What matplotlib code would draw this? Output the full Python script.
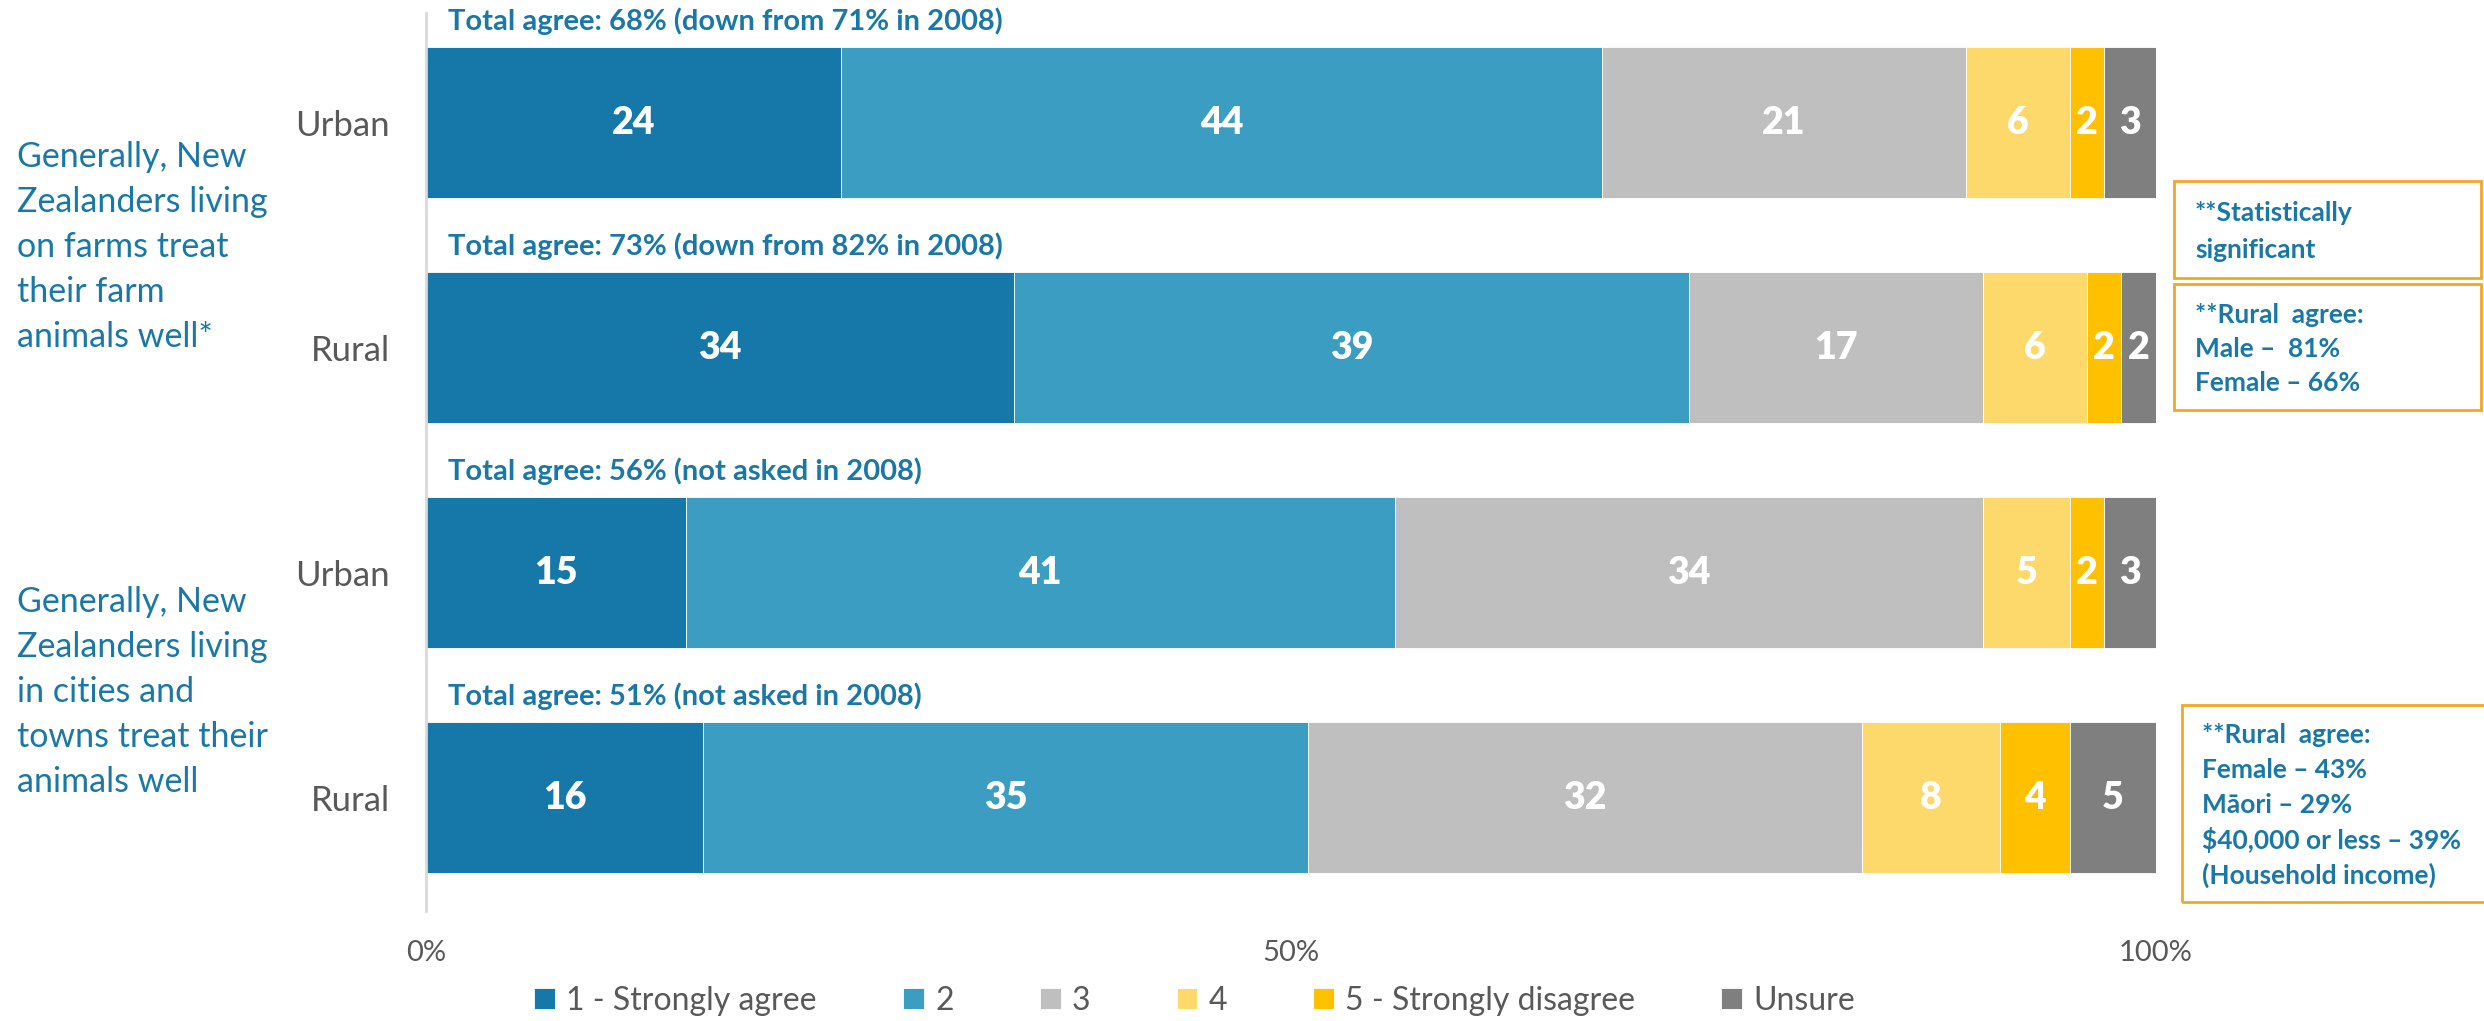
import matplotlib
matplotlib.use("Agg")
import matplotlib.pyplot as plt
from matplotlib.patches import Rectangle
import numpy as np

plt.rcParams['font.family'] = ['Lato', 'DejaVu Sans']

# --- data ---
rows = ['Urban', 'Rural', 'Urban', 'Rural']
categories = ['1 - Strongly agree', '2', '3', '4', '5 - Strongly disagree', 'Unsure']
values = np.array([
    [24, 44, 21, 6, 2, 3],
    [34, 39, 17, 6, 2, 2],
    [15, 41, 34, 5, 2, 3],
    [16, 35, 32, 8, 4, 5],
])
totals = [
    'Total agree: 68% (down from 71% in 2008)',
    'Total agree: 73% (down from 82% in 2008)',
    'Total agree: 56% (not asked in 2008)',
    'Total agree: 51% (not asked in 2008)',
]
questions = [
    ['Generally, New', 'Zealanders living', 'on farms treat', 'their farm', 'animals well*'],
    ['Generally, New', 'Zealanders living', 'in cities and', 'towns treat their', 'animals well'],
]
notes = [
    ['**Statistically', 'significant'],
    ['**Rural  agree:', 'Male \u2013  81%', 'Female \u2013 66%'],
    ['**Rural  agree:', 'Female \u2013 43%', 'M\u0101ori \u2013 29%',
     '$40,000 or less \u2013 39%', '(Household income)'],
]

colors = ['#1578a8', '#3a9dc1', '#bfbfbf', '#fdd96b', '#ffc000', '#7f7f7f']
blue = '#1a78a8'
grey = '#595959'

W, H = 2484, 1021
fig = plt.figure(figsize=(W / 100, H / 100), dpi=100)
ax = fig.add_axes([426 / W, 1 - 911 / H, (2156 - 426) / W, (911 - 13) / H])

y = np.arange(len(rows))
left = np.zeros(len(rows))
handles = []
for j, cat in enumerate(categories):
    bars = ax.barh(y, values[:, j], left=left, height=0.67, color=colors[j],
                   edgecolor='white', linewidth=0.6, label=cat)
    handles.append(bars)
    for i in range(len(rows)):
        ax.text(left[i] + values[i, j] / 2, y[i], str(values[i, j]),
                ha='center', va='center', color='white', fontsize=27, fontweight='heavy')
    left += values[:, j]

# total agree labels above each bar
for i, t in enumerate(totals):
    ax.text(1.3, y[i] - 0.41, t, ha='left', va='baseline', color=blue,
            fontsize=21, fontweight='bold')

ax.set_xlim(0, 100)
ax.set_ylim(3.504, -0.487)
ax.set_yticks(y, rows)
ax.set_xticks([0, 50, 100], ['0%', '50%', '100%'])
ax.tick_params(axis='y', length=0, pad=26, labelsize=25, labelcolor=grey)
ax.tick_params(axis='x', length=0, pad=21, labelsize=21, labelcolor=grey)
for s in ['top', 'right', 'bottom']:
    ax.spines[s].set_visible(False)
ax.spines['left'].set_color('#d9d9d9')
ax.spines['left'].set_linewidth(2)

# question text on the left
for lines, y0 in zip(questions, [157, 602]):
    for k, line in enumerate(lines):
        fig.text(17 / W, 1 - (y0 + 45 * k) / H, line, color=blue, fontsize=24.5,
                 ha='left', va='center')

# boxed notes on the right
boxes = [(2174, 181, 2481, 278), (2174, 284, 2481, 410), (2182, 705, 2492, 902)]
starts = [(2195, 213, 37), (2195, 315, 34), (2202, 735, 35)]
for (x0, y0, x1, y1), (tx, ty, dy), lines in zip(boxes, starts, notes):
    fig.add_artist(Rectangle((x0 / W, 1 - y1 / H), (x1 - x0) / W, (y1 - y0) / H,
                             transform=fig.transFigure, fill=False,
                             edgecolor='#f5a623', linewidth=2))
    for k, line in enumerate(lines):
        fig.text(tx / W, 1 - (ty + dy * k) / H, line, color=blue, fontsize=19,
                 fontweight='bold', ha='left', va='center')

fig.legend(handles=handles, labels=categories, loc='center',
           bbox_to_anchor=(0.481, 0.0196), ncol=6, frameon=False, fontsize=23,
           handlelength=0.65, handleheight=0.65, handletextpad=0.35,
           columnspacing=2.7, labelcolor=grey)

fig.savefig('out.png', dpi=100)
